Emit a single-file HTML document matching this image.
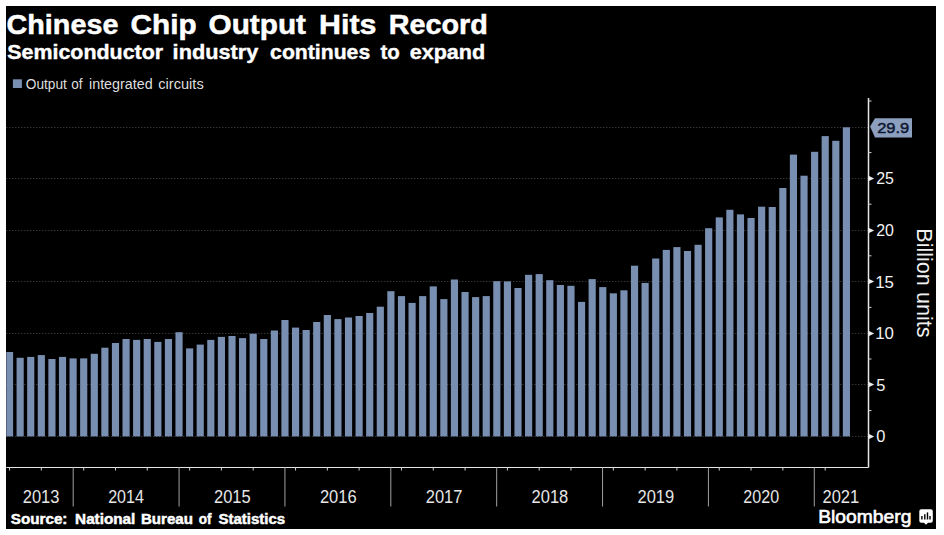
<!DOCTYPE html>
<html><head><meta charset="utf-8"><title>Chinese Chip Output Hits Record</title>
<style>
html,body{margin:0;padding:0;background:#fff;}
body{width:944px;height:535px;overflow:hidden;}
svg{display:block;font-family:"Liberation Sans", sans-serif;}
</style></head><body>
<svg width="944" height="535" viewBox="0 0 944 535">
<rect x="0" y="0" width="944" height="535" fill="#fff"/>
<rect x="6" y="6" width="930" height="523" fill="#000"/>
<line x1="6.3" y1="436.50" x2="868.5" y2="436.50" stroke="#4c4c4c" stroke-width="1" stroke-dasharray="1 2"/>
<line x1="6.3" y1="384.50" x2="868.5" y2="384.50" stroke="#4c4c4c" stroke-width="1" stroke-dasharray="1 2"/>
<line x1="6.3" y1="333.50" x2="868.5" y2="333.50" stroke="#4c4c4c" stroke-width="1" stroke-dasharray="1 2"/>
<line x1="6.3" y1="281.50" x2="868.5" y2="281.50" stroke="#4c4c4c" stroke-width="1" stroke-dasharray="1 2"/>
<line x1="6.3" y1="230.50" x2="868.5" y2="230.50" stroke="#4c4c4c" stroke-width="1" stroke-dasharray="1 2"/>
<line x1="6.3" y1="178.50" x2="868.5" y2="178.50" stroke="#4c4c4c" stroke-width="1" stroke-dasharray="1 2"/>
<line x1="6.3" y1="127.50" x2="868.5" y2="127.50" stroke="#4c4c4c" stroke-width="1" stroke-dasharray="1 2"/>
<rect x="6.30" y="352.00" width="6.83" height="84.40" fill="#798fb1"/>
<rect x="16.57" y="357.80" width="7.15" height="78.60" fill="#798fb1"/>
<rect x="27.16" y="356.90" width="7.15" height="79.50" fill="#798fb1"/>
<rect x="37.75" y="355.10" width="7.15" height="81.30" fill="#798fb1"/>
<rect x="48.35" y="359.00" width="7.15" height="77.40" fill="#798fb1"/>
<rect x="58.94" y="356.90" width="7.15" height="79.50" fill="#798fb1"/>
<rect x="69.53" y="358.40" width="7.15" height="78.00" fill="#798fb1"/>
<rect x="80.13" y="358.40" width="7.15" height="78.00" fill="#798fb1"/>
<rect x="90.72" y="353.80" width="7.15" height="82.60" fill="#798fb1"/>
<rect x="101.31" y="347.70" width="7.15" height="88.70" fill="#798fb1"/>
<rect x="111.91" y="343.00" width="7.15" height="93.40" fill="#798fb1"/>
<rect x="122.50" y="339.00" width="7.15" height="97.40" fill="#798fb1"/>
<rect x="133.09" y="339.90" width="7.15" height="96.50" fill="#798fb1"/>
<rect x="143.68" y="339.00" width="7.15" height="97.40" fill="#798fb1"/>
<rect x="154.28" y="341.90" width="7.15" height="94.50" fill="#798fb1"/>
<rect x="164.87" y="339.00" width="7.15" height="97.40" fill="#798fb1"/>
<rect x="175.46" y="332.20" width="7.15" height="104.20" fill="#798fb1"/>
<rect x="186.06" y="348.40" width="7.15" height="88.00" fill="#798fb1"/>
<rect x="196.65" y="344.60" width="7.15" height="91.80" fill="#798fb1"/>
<rect x="207.24" y="339.90" width="7.15" height="96.50" fill="#798fb1"/>
<rect x="217.84" y="336.90" width="7.15" height="99.50" fill="#798fb1"/>
<rect x="228.43" y="336.00" width="7.15" height="100.40" fill="#798fb1"/>
<rect x="239.02" y="338.10" width="7.15" height="98.30" fill="#798fb1"/>
<rect x="249.61" y="333.70" width="7.15" height="102.70" fill="#798fb1"/>
<rect x="260.21" y="339.00" width="7.15" height="97.40" fill="#798fb1"/>
<rect x="270.80" y="330.50" width="7.15" height="105.90" fill="#798fb1"/>
<rect x="281.39" y="320.00" width="7.15" height="116.40" fill="#798fb1"/>
<rect x="291.99" y="327.60" width="7.15" height="108.80" fill="#798fb1"/>
<rect x="302.58" y="330.00" width="7.15" height="106.40" fill="#798fb1"/>
<rect x="313.17" y="322.00" width="7.15" height="114.40" fill="#798fb1"/>
<rect x="323.77" y="315.00" width="7.15" height="121.40" fill="#798fb1"/>
<rect x="334.36" y="319.10" width="7.15" height="117.30" fill="#798fb1"/>
<rect x="344.95" y="317.50" width="7.15" height="118.90" fill="#798fb1"/>
<rect x="355.54" y="316.00" width="7.15" height="120.40" fill="#798fb1"/>
<rect x="366.14" y="313.00" width="7.15" height="123.40" fill="#798fb1"/>
<rect x="376.73" y="306.70" width="7.15" height="129.70" fill="#798fb1"/>
<rect x="387.32" y="291.20" width="7.15" height="145.20" fill="#798fb1"/>
<rect x="397.92" y="296.10" width="7.15" height="140.30" fill="#798fb1"/>
<rect x="408.51" y="302.90" width="7.15" height="133.50" fill="#798fb1"/>
<rect x="419.10" y="296.10" width="7.15" height="140.30" fill="#798fb1"/>
<rect x="429.70" y="286.40" width="7.15" height="150.00" fill="#798fb1"/>
<rect x="440.29" y="299.10" width="7.15" height="137.30" fill="#798fb1"/>
<rect x="450.88" y="279.50" width="7.15" height="156.90" fill="#798fb1"/>
<rect x="461.47" y="292.00" width="7.15" height="144.40" fill="#798fb1"/>
<rect x="472.07" y="297.10" width="7.15" height="139.30" fill="#798fb1"/>
<rect x="482.66" y="296.10" width="7.15" height="140.30" fill="#798fb1"/>
<rect x="493.25" y="281.20" width="7.15" height="155.20" fill="#798fb1"/>
<rect x="503.85" y="281.40" width="7.15" height="155.00" fill="#798fb1"/>
<rect x="514.44" y="288.00" width="7.15" height="148.40" fill="#798fb1"/>
<rect x="525.03" y="274.80" width="7.15" height="161.60" fill="#798fb1"/>
<rect x="535.62" y="274.10" width="7.15" height="162.30" fill="#798fb1"/>
<rect x="546.22" y="280.20" width="7.15" height="156.20" fill="#798fb1"/>
<rect x="556.81" y="285.00" width="7.15" height="151.40" fill="#798fb1"/>
<rect x="567.40" y="285.80" width="7.15" height="150.60" fill="#798fb1"/>
<rect x="578.00" y="301.90" width="7.15" height="134.50" fill="#798fb1"/>
<rect x="588.59" y="279.10" width="7.15" height="157.30" fill="#798fb1"/>
<rect x="599.18" y="287.10" width="7.15" height="149.30" fill="#798fb1"/>
<rect x="609.78" y="293.30" width="7.15" height="143.10" fill="#798fb1"/>
<rect x="620.37" y="290.30" width="7.15" height="146.10" fill="#798fb1"/>
<rect x="630.96" y="265.70" width="7.15" height="170.70" fill="#798fb1"/>
<rect x="641.55" y="282.90" width="7.15" height="153.50" fill="#798fb1"/>
<rect x="652.15" y="258.50" width="7.15" height="177.90" fill="#798fb1"/>
<rect x="662.74" y="249.90" width="7.15" height="186.50" fill="#798fb1"/>
<rect x="673.33" y="247.10" width="7.15" height="189.30" fill="#798fb1"/>
<rect x="683.93" y="251.00" width="7.15" height="185.40" fill="#798fb1"/>
<rect x="694.52" y="244.80" width="7.15" height="191.60" fill="#798fb1"/>
<rect x="705.11" y="228.20" width="7.15" height="208.20" fill="#798fb1"/>
<rect x="715.71" y="217.40" width="7.15" height="219.00" fill="#798fb1"/>
<rect x="726.30" y="209.80" width="7.15" height="226.60" fill="#798fb1"/>
<rect x="736.89" y="214.40" width="7.15" height="222.00" fill="#798fb1"/>
<rect x="747.48" y="218.00" width="7.15" height="218.40" fill="#798fb1"/>
<rect x="758.08" y="206.70" width="7.15" height="229.70" fill="#798fb1"/>
<rect x="768.67" y="207.00" width="7.15" height="229.40" fill="#798fb1"/>
<rect x="779.26" y="188.00" width="7.15" height="248.40" fill="#798fb1"/>
<rect x="789.86" y="154.60" width="7.15" height="281.80" fill="#798fb1"/>
<rect x="800.45" y="175.70" width="7.15" height="260.70" fill="#798fb1"/>
<rect x="811.04" y="151.80" width="7.15" height="284.60" fill="#798fb1"/>
<rect x="821.64" y="136.10" width="7.15" height="300.30" fill="#798fb1"/>
<rect x="832.23" y="140.80" width="7.15" height="295.60" fill="#798fb1"/>
<rect x="842.82" y="127.30" width="7.15" height="309.10" fill="#798fb1"/>
<line x1="868.5" y1="98" x2="868.5" y2="467.5" stroke="#e6e6e6" stroke-width="1.5"/>
<line x1="6.3" y1="467.5" x2="868.5" y2="467.5" stroke="#e6e6e6" stroke-width="1.2"/>
<path d="M868.5 433.80 L874.2 436.50 L868.5 439.20 Z" fill="#ececec"/>
<path d="M868.5 381.80 L874.2 384.50 L868.5 387.20 Z" fill="#ececec"/>
<path d="M868.5 330.80 L874.2 333.50 L868.5 336.20 Z" fill="#ececec"/>
<path d="M868.5 278.80 L874.2 281.50 L868.5 284.20 Z" fill="#ececec"/>
<path d="M868.5 227.80 L874.2 230.50 L868.5 233.20 Z" fill="#ececec"/>
<path d="M868.5 175.80 L874.2 178.50 L868.5 181.20 Z" fill="#ececec"/>
<line x1="868.5" y1="410.60" x2="871.5" y2="410.60" stroke="#cfcfcf" stroke-width="1"/>
<line x1="868.5" y1="359.00" x2="871.5" y2="359.00" stroke="#cfcfcf" stroke-width="1"/>
<line x1="868.5" y1="307.40" x2="871.5" y2="307.40" stroke="#cfcfcf" stroke-width="1"/>
<line x1="868.5" y1="255.80" x2="871.5" y2="255.80" stroke="#cfcfcf" stroke-width="1"/>
<line x1="868.5" y1="204.20" x2="871.5" y2="204.20" stroke="#cfcfcf" stroke-width="1"/>
<line x1="868.5" y1="152.60" x2="871.5" y2="152.60" stroke="#cfcfcf" stroke-width="1"/>
<line x1="868.5" y1="101.00" x2="871.5" y2="101.00" stroke="#cfcfcf" stroke-width="1"/>
<line x1="73.20" y1="467.5" x2="73.20" y2="506.5" stroke="#a0a0a0" stroke-width="1"/>
<line x1="179.07" y1="467.5" x2="179.07" y2="506.5" stroke="#a0a0a0" stroke-width="1"/>
<line x1="284.94" y1="467.5" x2="284.94" y2="506.5" stroke="#a0a0a0" stroke-width="1"/>
<line x1="390.81" y1="467.5" x2="390.81" y2="506.5" stroke="#a0a0a0" stroke-width="1"/>
<line x1="496.68" y1="467.5" x2="496.68" y2="506.5" stroke="#a0a0a0" stroke-width="1"/>
<line x1="602.55" y1="467.5" x2="602.55" y2="506.5" stroke="#a0a0a0" stroke-width="1"/>
<line x1="708.42" y1="467.5" x2="708.42" y2="506.5" stroke="#a0a0a0" stroke-width="1"/>
<line x1="814.29" y1="467.5" x2="814.29" y2="506.5" stroke="#a0a0a0" stroke-width="1"/>
<line x1="9.55" y1="467.5" x2="9.55" y2="470.5" stroke="#cfcfcf" stroke-width="1"/>
<line x1="41.33" y1="467.5" x2="41.33" y2="470.5" stroke="#cfcfcf" stroke-width="1"/>
<line x1="83.70" y1="467.5" x2="83.70" y2="470.5" stroke="#cfcfcf" stroke-width="1"/>
<line x1="115.48" y1="467.5" x2="115.48" y2="470.5" stroke="#cfcfcf" stroke-width="1"/>
<line x1="147.26" y1="467.5" x2="147.26" y2="470.5" stroke="#cfcfcf" stroke-width="1"/>
<line x1="189.63" y1="467.5" x2="189.63" y2="470.5" stroke="#cfcfcf" stroke-width="1"/>
<line x1="221.41" y1="467.5" x2="221.41" y2="470.5" stroke="#cfcfcf" stroke-width="1"/>
<line x1="253.19" y1="467.5" x2="253.19" y2="470.5" stroke="#cfcfcf" stroke-width="1"/>
<line x1="295.56" y1="467.5" x2="295.56" y2="470.5" stroke="#cfcfcf" stroke-width="1"/>
<line x1="327.34" y1="467.5" x2="327.34" y2="470.5" stroke="#cfcfcf" stroke-width="1"/>
<line x1="359.12" y1="467.5" x2="359.12" y2="470.5" stroke="#cfcfcf" stroke-width="1"/>
<line x1="401.49" y1="467.5" x2="401.49" y2="470.5" stroke="#cfcfcf" stroke-width="1"/>
<line x1="433.27" y1="467.5" x2="433.27" y2="470.5" stroke="#cfcfcf" stroke-width="1"/>
<line x1="465.05" y1="467.5" x2="465.05" y2="470.5" stroke="#cfcfcf" stroke-width="1"/>
<line x1="507.42" y1="467.5" x2="507.42" y2="470.5" stroke="#cfcfcf" stroke-width="1"/>
<line x1="539.20" y1="467.5" x2="539.20" y2="470.5" stroke="#cfcfcf" stroke-width="1"/>
<line x1="570.98" y1="467.5" x2="570.98" y2="470.5" stroke="#cfcfcf" stroke-width="1"/>
<line x1="613.35" y1="467.5" x2="613.35" y2="470.5" stroke="#cfcfcf" stroke-width="1"/>
<line x1="645.13" y1="467.5" x2="645.13" y2="470.5" stroke="#cfcfcf" stroke-width="1"/>
<line x1="676.91" y1="467.5" x2="676.91" y2="470.5" stroke="#cfcfcf" stroke-width="1"/>
<line x1="719.28" y1="467.5" x2="719.28" y2="470.5" stroke="#cfcfcf" stroke-width="1"/>
<line x1="751.06" y1="467.5" x2="751.06" y2="470.5" stroke="#cfcfcf" stroke-width="1"/>
<line x1="782.84" y1="467.5" x2="782.84" y2="470.5" stroke="#cfcfcf" stroke-width="1"/>
<line x1="825.21" y1="467.5" x2="825.21" y2="470.5" stroke="#cfcfcf" stroke-width="1"/>
<path d="M870.1 126.4 L875 118.2 L912 118.2 L912 137.4 L875 137.4 Z" fill="#8c9fbf"/>
<rect x="12.9" y="79.3" width="9" height="8.7" fill="#798fb1"/>
<text x="6.57" y="34.30" font-size="28" font-weight="bold" fill="#fff" textLength="111.81" lengthAdjust="spacingAndGlyphs" stroke="#fff" stroke-width="0.5">Chinese</text>
<text x="130.54" y="34.30" font-size="28" font-weight="bold" fill="#fff" textLength="66.03" lengthAdjust="spacingAndGlyphs" stroke="#fff" stroke-width="0.5">Chip</text>
<text x="208.54" y="34.30" font-size="28" font-weight="bold" fill="#fff" textLength="97.51" lengthAdjust="spacingAndGlyphs" stroke="#fff" stroke-width="0.5">Output</text>
<text x="319.01" y="34.30" font-size="28" font-weight="bold" fill="#fff" textLength="57.41" lengthAdjust="spacingAndGlyphs" stroke="#fff" stroke-width="0.5">Hits</text>
<text x="388.77" y="34.30" font-size="28" font-weight="bold" fill="#fff" textLength="99.06" lengthAdjust="spacingAndGlyphs" stroke="#fff" stroke-width="0.5">Record</text>
<text x="7.30" y="58.90" font-size="20.5" font-weight="bold" fill="#fff" textLength="155.78" lengthAdjust="spacingAndGlyphs" stroke="#fff" stroke-width="0.4">Semiconductor</text>
<text x="172.64" y="58.90" font-size="20.5" font-weight="bold" fill="#fff" textLength="85.73" lengthAdjust="spacingAndGlyphs" stroke="#fff" stroke-width="0.4">industry</text>
<text x="270.10" y="58.90" font-size="20.5" font-weight="bold" fill="#fff" textLength="100.11" lengthAdjust="spacingAndGlyphs" stroke="#fff" stroke-width="0.4">continues</text>
<text x="380.50" y="58.90" font-size="20.5" font-weight="bold" fill="#fff" textLength="19.32" lengthAdjust="spacingAndGlyphs" stroke="#fff" stroke-width="0.4">to</text>
<text x="409.70" y="58.90" font-size="20.5" font-weight="bold" fill="#fff" textLength="75.45" lengthAdjust="spacingAndGlyphs" stroke="#fff" stroke-width="0.4">expand</text>
<text x="25.80" y="88.70" font-size="14" fill="#dedede" textLength="40.99" lengthAdjust="spacingAndGlyphs">Output</text>
<text x="71.20" y="88.70" font-size="14" fill="#dedede" textLength="11.29" lengthAdjust="spacingAndGlyphs">of</text>
<text x="89.00" y="88.70" font-size="14" fill="#dedede" textLength="63.70" lengthAdjust="spacingAndGlyphs">integrated</text>
<text x="158.30" y="88.70" font-size="14" fill="#dedede" textLength="45.40" lengthAdjust="spacingAndGlyphs">circuits</text>
<text x="10.80" y="523.50" font-size="14" font-weight="bold" fill="#fff" textLength="56.62" lengthAdjust="spacingAndGlyphs" stroke="#fff" stroke-width="0.45">Source:</text>
<text x="75.10" y="523.50" font-size="14" font-weight="bold" fill="#fff" textLength="60.27" lengthAdjust="spacingAndGlyphs" stroke="#fff" stroke-width="0.45">National</text>
<text x="140.90" y="523.50" font-size="14" font-weight="bold" fill="#fff" textLength="51.99" lengthAdjust="spacingAndGlyphs" stroke="#fff" stroke-width="0.45">Bureau</text>
<text x="198.80" y="523.50" font-size="14" font-weight="bold" fill="#fff" textLength="12.77" lengthAdjust="spacingAndGlyphs" stroke="#fff" stroke-width="0.45">of</text>
<text x="218.40" y="523.50" font-size="14" font-weight="bold" fill="#fff" textLength="66.67" lengthAdjust="spacingAndGlyphs" stroke="#fff" stroke-width="0.45">Statistics</text>
<text x="818.16" y="522.70" font-size="18.6" fill="#fff" textLength="93.19" lengthAdjust="spacingAndGlyphs" stroke="#fff" stroke-width="0.6">Bloomberg</text>
<text x="22.75" y="503.40" font-size="17.5" fill="#e6e6e6" textLength="36.69" lengthAdjust="spacingAndGlyphs">2013</text>
<text x="108.14" y="503.40" font-size="17.5" fill="#e6e6e6" textLength="35.75" lengthAdjust="spacingAndGlyphs">2014</text>
<text x="214.00" y="503.40" font-size="17.5" fill="#e6e6e6" textLength="36.69" lengthAdjust="spacingAndGlyphs">2015</text>
<text x="319.88" y="503.40" font-size="17.5" fill="#e6e6e6" textLength="36.69" lengthAdjust="spacingAndGlyphs">2016</text>
<text x="425.75" y="503.40" font-size="17.5" fill="#e6e6e6" textLength="36.69" lengthAdjust="spacingAndGlyphs">2017</text>
<text x="531.62" y="503.40" font-size="17.5" fill="#e6e6e6" textLength="36.69" lengthAdjust="spacingAndGlyphs">2018</text>
<text x="637.49" y="503.40" font-size="17.5" fill="#e6e6e6" textLength="36.69" lengthAdjust="spacingAndGlyphs">2019</text>
<text x="743.36" y="503.40" font-size="17.5" fill="#e6e6e6" textLength="35.75" lengthAdjust="spacingAndGlyphs">2020</text>
<text x="822.50" y="503.40" font-size="17.5" fill="#e6e6e6" textLength="36.69" lengthAdjust="spacingAndGlyphs">2021</text>
<text x="876.20" y="442.30" font-size="17.2" fill="#f2f2f2" textLength="9.13" lengthAdjust="spacingAndGlyphs">0</text>
<text x="876.20" y="390.70" font-size="17.2" fill="#f2f2f2" textLength="9.13" lengthAdjust="spacingAndGlyphs">5</text>
<text x="875.22" y="339.10" font-size="17.2" fill="#f2f2f2" textLength="18.73" lengthAdjust="spacingAndGlyphs">10</text>
<text x="875.22" y="287.50" font-size="17.2" fill="#f2f2f2" textLength="18.73" lengthAdjust="spacingAndGlyphs">15</text>
<text x="876.20" y="235.90" font-size="17.2" fill="#f2f2f2" textLength="17.72" lengthAdjust="spacingAndGlyphs">20</text>
<text x="876.20" y="184.30" font-size="17.2" fill="#f2f2f2" textLength="17.72" lengthAdjust="spacingAndGlyphs">25</text>
<text x="877.20" y="132.80" font-size="15.2" fill="#0c1830" textLength="32.08" lengthAdjust="spacingAndGlyphs" stroke="#0c1830" stroke-width="0.45">29.9</text>
<text transform="translate(916.6 0) rotate(90)" x="228.29" y="0" font-size="21.4" fill="#f0f0f0" textLength="109.21" lengthAdjust="spacingAndGlyphs">Billion units</text>
<path d="M921.3 509.2 H930.8 Q932.8 509.2 932.8 511.2 V520.7 Q932.8 522.7 930.8 522.7 H928 L926 524.8 L924 522.7 H921.3 Q919.3 522.7 919.3 520.7 V511.2 Q919.3 509.2 921.3 509.2 Z" fill="#fff"/>
<rect x="921.2" y="516" width="1.4" height="3.50" fill="#000"/>
<rect x="924.1" y="514.2" width="1.4" height="5.30" fill="#000"/>
<rect x="926.8" y="512.4" width="1.4" height="7.10" fill="#000"/>
<rect x="929.3" y="516" width="1.4" height="3.50" fill="#000"/>
</svg>
</body></html>
